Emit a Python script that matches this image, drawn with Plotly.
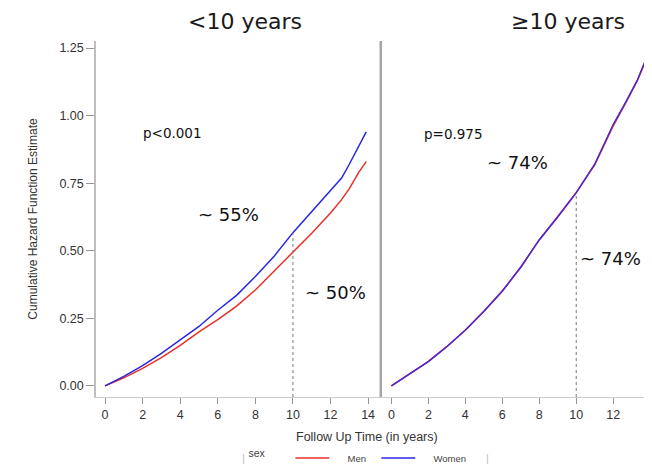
import plotly.graph_objects as go

# ---- data ----
panel_titles = ["<10 years", "\u226510 years"]

t_lt10 = [0, 1, 2, 3, 4, 5, 6, 7, 8, 9, 10, 11, 12, 12.6, 13, 13.5, 13.9]
men_lt10 = [0, 0.03, 0.065, 0.105, 0.15, 0.20, 0.245, 0.295, 0.355, 0.425, 0.496, 0.565, 0.64, 0.69, 0.73, 0.79, 0.83]
women_lt10 = [0, 0.035, 0.075, 0.12, 0.17, 0.22, 0.28, 0.335, 0.405, 0.48, 0.567, 0.645, 0.72, 0.77, 0.82, 0.89, 0.94]

t_ge10 = [0, 1, 2, 3, 4, 5, 6, 7, 8, 9, 10, 11, 12, 12.7, 13.3, 13.8]
men_ge10 = [0, 0.044, 0.091, 0.146, 0.206, 0.276, 0.352, 0.438, 0.541, 0.627, 0.716, 0.818, 0.962, 1.05, 1.128, 1.21]
women_ge10 = [0, 0.045, 0.09, 0.145, 0.207, 0.275, 0.35, 0.44, 0.54, 0.625, 0.714, 0.82, 0.967, 1.053, 1.13, 1.214]

y_ticks = [0, 0.25, 0.5, 0.75, 1.0, 1.25]
x_ticks = [0, 2, 4, 6, 8, 10, 12, 14]

series_names = ["Men", "Women"]
legend_title = "sex"
p_values = ["p<0.001", "p=0.975"]
pct_lt10 = ["~ 55%", "~ 50%"]
pct_ge10 = ["~ 74%", "~ 74%"]
ref_time = 10

RED = "rgb(232,48,40)"
BLUE = "rgb(40,40,225)"

# the page body has an 8px default margin: size the figure to fill the rest
OFF = 8
W, H = 652 - OFF, 466 - OFF

NB = "\u00a0"
fig = go.Figure()

fig.add_trace(go.Scatter(x=t_lt10, y=men_lt10, mode="lines", name=NB * 5 + series_names[0] + NB * 2,
                         line=dict(color=RED, width=1.5), xaxis="x", yaxis="y"))
fig.add_trace(go.Scatter(x=t_lt10, y=women_lt10, mode="lines", name=NB * 5 + series_names[1],
                         line=dict(color=BLUE, width=1.5), xaxis="x", yaxis="y"))
fig.add_trace(go.Scatter(x=t_ge10, y=men_ge10, mode="lines", name=series_names[0], showlegend=False,
                         line=dict(color=RED, width=1.5), xaxis="x2", yaxis="y2"))
fig.add_trace(go.Scatter(x=t_ge10, y=women_ge10, mode="lines", name=series_names[1], showlegend=False,
                         line=dict(color="rgb(70,40,215)", width=1.5), xaxis="x2", yaxis="y2"))

yr = [-0.041, 1.276]
split = 0.5117

axis_font = dict(family="Liberation Sans, Arial, sans-serif", size=12.5, color="#333")

# plot area in page pixels: x 96..652, y 41..397
PL, PT, PB = 96, 41, 397
PW, PH = 652 - PL, PB - PT


def px_x(px):
    return (px - PL) / PW


def px_y(py):
    return (PB - py) / PH


fig.update_layout(
    width=W, height=H,
    margin=dict(l=PL - OFF, r=0, t=PT - OFF, b=466 - PB, autoexpand=False),
    paper_bgcolor="white", plot_bgcolor="white",
    showlegend=True,
    legend=dict(orientation="h", xref="container", yref="container",
                x=(359 - OFF) / W, y=(466 - 458) / H, xanchor="center", yanchor="middle",
                title=dict(text=legend_title + NB * 6, side="left",
                           font=dict(family="Liberation Sans, Arial, sans-serif", size=10.5, color="#444")),
                font=dict(family="Liberation Sans, Arial, sans-serif", size=9.5, color="#444"),
                itemwidth=34, tracegroupgap=0),
    xaxis=dict(domain=[0, split], range=[-0.48, 14.66], tickvals=x_ticks, automargin=False,
               showgrid=False, zeroline=False, showline=True, linecolor="rgb(205,205,205)",
               linewidth=1.2, ticks="outside", ticklen=6, tickcolor="rgb(150,150,150)",
               tickfont=axis_font),
    yaxis=dict(domain=[0, 1], range=yr, tickvals=y_ticks, tickformat=".2f", automargin=False,
               showgrid=False, zeroline=False, showline=True, linecolor="rgb(190,190,190)",
               linewidth=1.5, ticks="outside", ticklen=8, tickcolor="rgb(150,150,150)",
               tickfont=axis_font,
               title=dict(text="Cumulative Hazard Function Estimate", standoff=19,
                          font=dict(family="Liberation Sans, Arial, sans-serif", size=12, color="#333"))),
    xaxis2=dict(domain=[split + 0.001, 1], range=[-0.56, 14.1], tickvals=x_ticks, automargin=False,
                showgrid=False, zeroline=False, showline=True, linecolor="rgb(205,205,205)",
                linewidth=1.2, ticks="outside", ticklen=6, tickcolor="rgb(150,150,150)",
                tickfont=axis_font, anchor="y2", ticklabeloverflow="allow"),
    yaxis2=dict(domain=[0, 1], range=yr, anchor="x2", showticklabels=False, automargin=False,
                showgrid=False, zeroline=False, showline=False, ticks=""),
)

# separator between the panels
fig.add_shape(type="line", xref="paper", yref="paper", x0=split + 0.0005, x1=split + 0.0005,
              y0=0, y1=1, line=dict(color="rgb(165,165,165)", width=2.5))

# dotted reference lines at 10 years
fig.add_shape(type="line", xref="x", yref="y", x0=ref_time, x1=ref_time, y0=yr[0],
              y1=women_lt10[t_lt10.index(ref_time)],
              line=dict(color="rgb(120,120,120)", width=1, dash="dot"))
fig.add_shape(type="line", xref="x2", yref="y2", x0=ref_time, x1=ref_time, y0=yr[0],
              y1=women_ge10[t_ge10.index(ref_time)],
              line=dict(color="rgb(120,120,120)", width=1, dash="dot"))

title_font = dict(family="DejaVu Sans, sans-serif", size=22, color="#1a1a1a")
fig.add_annotation(text=panel_titles[0], xref="paper", yref="paper", x=px_x(245), y=px_y(22),
                   showarrow=False, font=title_font, xanchor="center", yanchor="middle")
fig.add_annotation(text=panel_titles[1], xref="paper", yref="paper", x=px_x(568), y=px_y(22),
                   showarrow=False, font=title_font, xanchor="center", yanchor="middle")

p_font = dict(family="DejaVu Sans, sans-serif", size=13.5, color="#111")
pct_font = dict(family="DejaVu Sans, sans-serif", size=18, color="#111")

fig.add_annotation(text=p_values[0], xref="x", yref="y", x=3.57, y=0.936, showarrow=False, font=p_font)
fig.add_annotation(text=pct_lt10[0], xref="x", yref="y", x=6.55, y=0.636, showarrow=False, font=pct_font)
fig.add_annotation(text=pct_lt10[1], xref="x", yref="y", x=12.24, y=0.344, showarrow=False, font=pct_font)
fig.add_annotation(text=p_values[1], xref="x2", yref="y2", x=3.38, y=0.932, showarrow=False, font=p_font)
fig.add_annotation(text=pct_ge10[0], xref="x2", yref="y2", x=6.84, y=0.828, showarrow=False, font=pct_font)
fig.add_annotation(text=pct_ge10[1], xref="x2", yref="y2", x=11.84, y=0.473, showarrow=False, font=pct_font)

# x axis title
fig.add_annotation(text="Follow Up Time (in years)", xref="paper", yref="paper",
                   x=px_x(367), y=px_y(437), showarrow=False, xanchor="center", yanchor="middle",
                   font=dict(family="Liberation Sans, Arial, sans-serif", size=12.5, color="#333"))

# legend frame bars
for bx in (243, 488):
    fig.add_annotation(text="|", xref="paper", yref="paper", x=px_x(bx),
                       y=px_y(458), showarrow=False, xanchor="center", yanchor="middle",
                       font=dict(family="Liberation Sans, Arial, sans-serif", size=11, color="rgb(190,190,190)"))

fig.write_html("out.html")
